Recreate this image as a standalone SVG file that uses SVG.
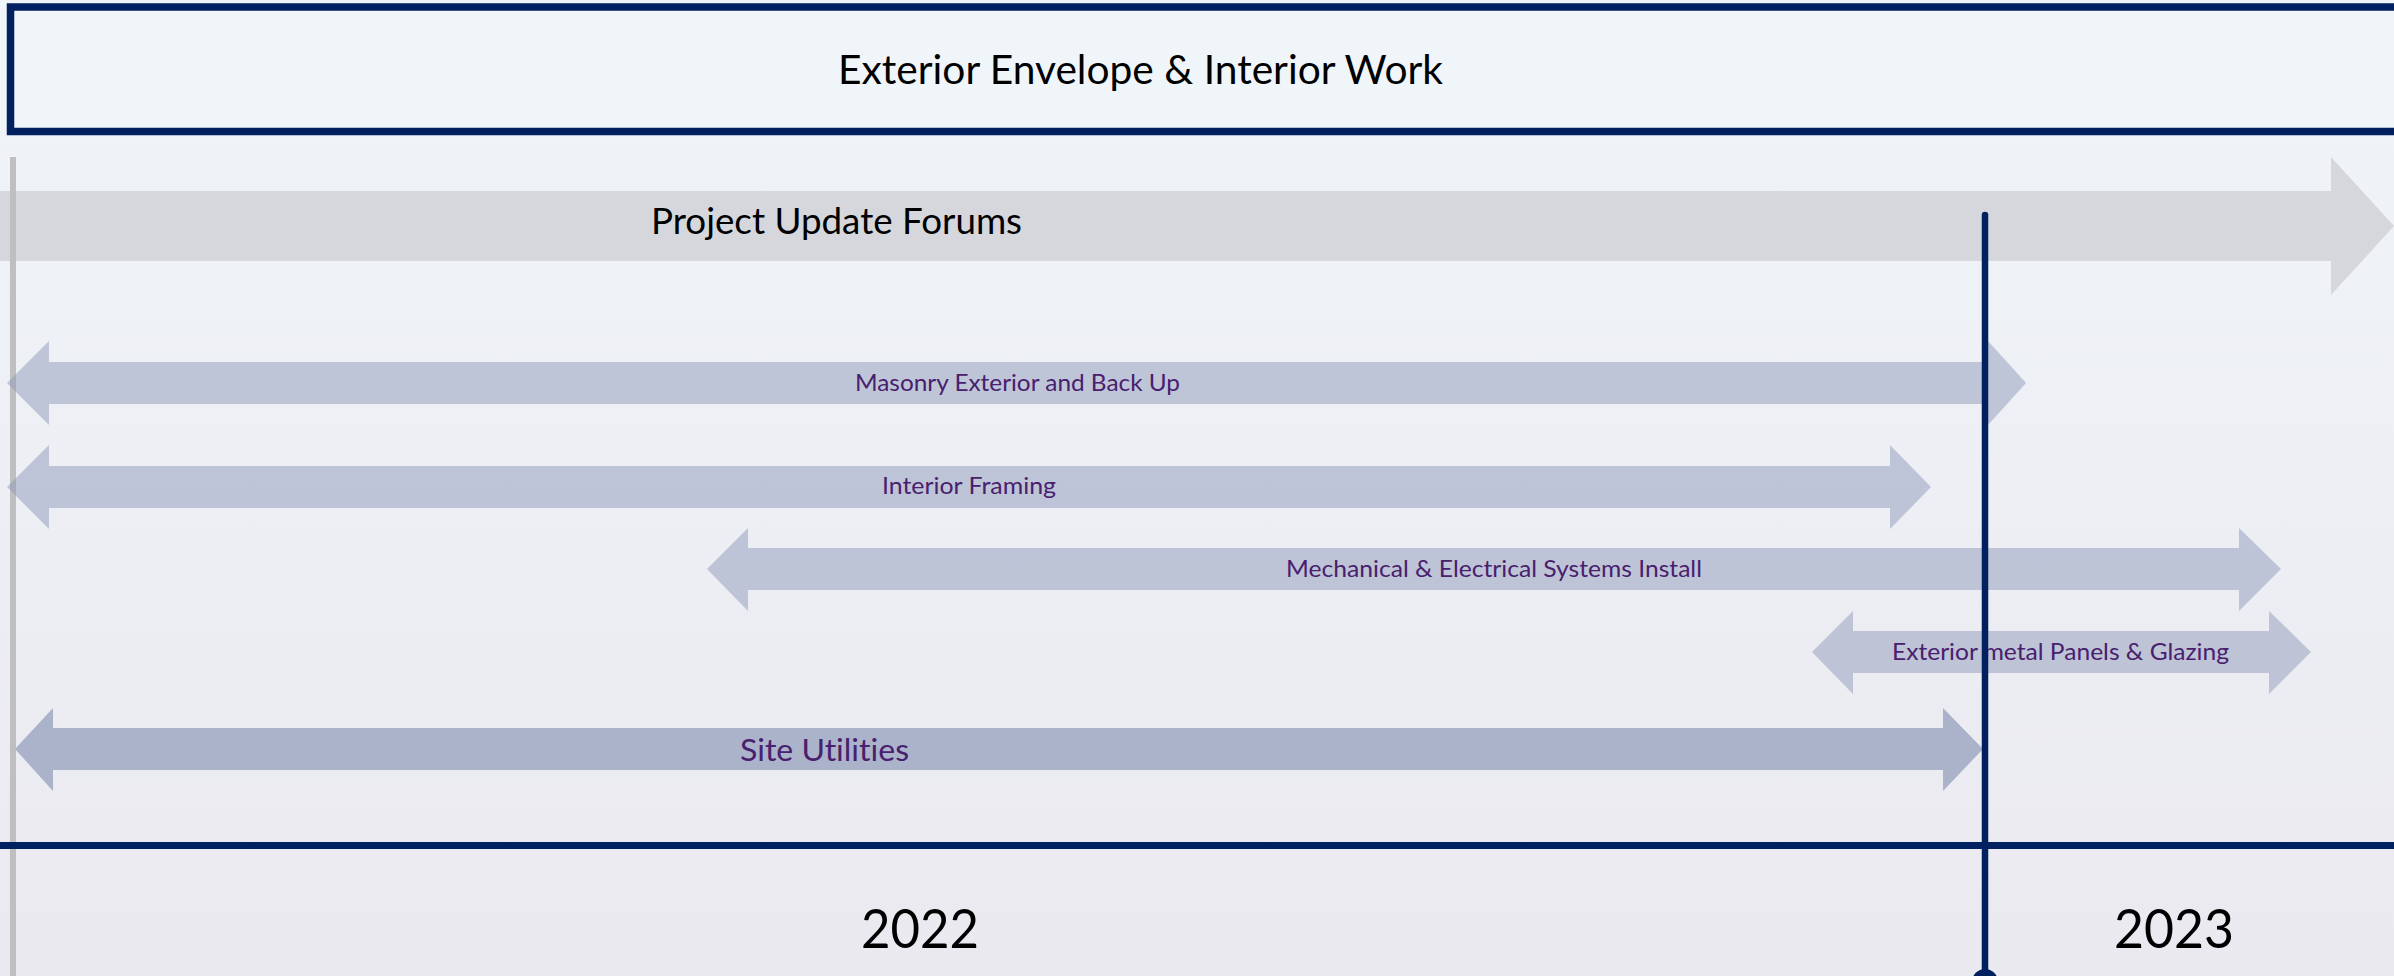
<svg xmlns="http://www.w3.org/2000/svg" width="2394" height="976" viewBox="0 0 2394 976">
  <defs>
    <linearGradient id="bg" x1="0" y1="0" x2="0" y2="1">
      <stop offset="0" stop-color="#f0f5f9"/>
      <stop offset="1" stop-color="#eae9f0"/>
    </linearGradient>
    <style>
      .lbl { font-family: Lato, "Open Sans", "Liberation Sans", sans-serif; font-variant-ligatures: none; }
      .task { fill: #909ab9; fill-opacity: 0.5; }
      .tasktxt { fill: #48206e; font-size: 23px; }
      .black { fill: #000000; }
      .navy { stroke: #002060; fill: none; }
    </style>
  </defs>
  <rect x="0" y="0" width="2394" height="976" fill="url(#bg)"/>

  <g id="header">
    <rect x="10.5" y="7" width="2400" height="124.5" fill="#eff5f9" stroke="#002060" stroke-width="7.5"/>
    <text class="lbl black" x="838" y="84" font-size="40" textLength="605" lengthAdjust="spacingAndGlyphs">Exterior Envelope &amp; Interior Work</text>
  </g>

  <g id="project-update-forums">
    <polygon points="0,191 2331,191 2331,157 2394,226 2331,295 2331,261 0,261" fill="#d5d7dc"/>
    <text class="lbl black" x="651" y="234" font-size="36" textLength="371" lengthAdjust="spacingAndGlyphs">Project Update Forums</text>
  </g>

  <g id="start-marker">
    <rect x="10" y="157" width="6" height="819" fill="#bfbfbf"/>
  </g>

  <g id="masonry">
    <polygon class="task" points="7,383 49,341 49,362 1988,362 1988,341 2026,383 1988,425 1988,404 49,404 49,425"/>
    <text class="lbl tasktxt" x="855" y="391" textLength="325" lengthAdjust="spacingAndGlyphs">Masonry Exterior and Back Up</text>
  </g>

  <g id="interior-framing">
    <polygon class="task" points="7,487 49,445 49,466 1890,466 1890,445 1931,487 1890,529 1890,508 49,508 49,529"/>
    <text class="lbl tasktxt" x="882" y="494" textLength="174" lengthAdjust="spacingAndGlyphs">Interior Framing</text>
  </g>

  <g id="mech-elec">
    <polygon class="task" points="707,569 748,528 748,548 2239,548 2239,528 2281,569 2239,611 2239,590 748,590 748,611"/>
    <text class="lbl tasktxt" x="1286" y="577" textLength="416" lengthAdjust="spacingAndGlyphs">Mechanical &amp; Electrical Systems Install</text>
  </g>

  <g id="exterior-metal">
    <polygon class="task" points="1812,652 1853,611 1853,631 2269,631 2269,611 2311,652 2269,694 2269,673 1853,673 1853,694"/>
    <text class="lbl tasktxt" x="1892" y="660" textLength="337" lengthAdjust="spacingAndGlyphs">Exterior metal Panels &amp; Glazing</text>
  </g>

  <g id="site-utilities">
    <polygon points="15,749 53,708 53,728 1943,728 1943,708 1983,749 1943,791 1943,770 53,770 53,791" fill="#aab3ca"/>
    <text class="lbl" x="740" y="761" font-size="31" fill="#48206e" textLength="169" lengthAdjust="spacingAndGlyphs">Site Utilities</text>
  </g>

  <g id="connectors">
    <line class="navy" x1="0" y1="845.5" x2="2394" y2="845.5" stroke-width="7"/>
    <line class="navy" x1="1985" y1="215" x2="1985" y2="976" stroke-width="6.5" stroke-linecap="round"/>
    <circle cx="1985" cy="982" r="13" fill="#002060"/>
  </g>

  <g id="year-2022">
    <text class="lbl black" x="861" y="948" font-size="55" textLength="118" lengthAdjust="spacingAndGlyphs">2022</text>
  </g>
  <g id="year-2023">
    <text class="lbl black" x="2114" y="948" font-size="55" textLength="120" lengthAdjust="spacingAndGlyphs">2023</text>
  </g>
</svg>
